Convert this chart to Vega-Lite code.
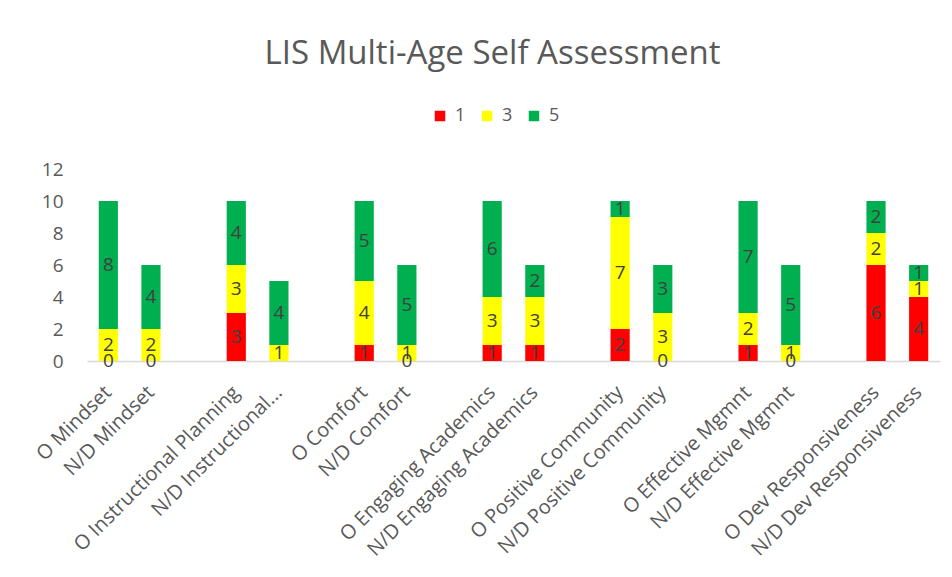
{
  "$schema": "https://vega.github.io/schema/vega-lite/v6.json",
  "autosize": "none",
  "width": 853,
  "height": 192,
  "padding": {"left": 87, "top": 169, "right": 12, "bottom": 216},
  "background": "white",
  "config": {"font": "Open Sans", "view": {"stroke": null}, "axisY": {"labelOverlap": false}},
  "title": {"text": "LIS Multi-Age Self Assessment", "fontSize": 33, "fontWeight": "normal", "color": "#595959", "anchor": "middle", "dx": -21, "offset": 36},
  "data": {"values": [
    {"category": "O Mindset", "rating": "1", "value": 0},
    {"category": "O Mindset", "rating": "3", "value": 2},
    {"category": "O Mindset", "rating": "5", "value": 8},
    {"category": "N/D Mindset", "rating": "1", "value": 0},
    {"category": "N/D Mindset", "rating": "3", "value": 2},
    {"category": "N/D Mindset", "rating": "5", "value": 4},
    {"category": "O Instructional Planning", "rating": "1", "value": 3},
    {"category": "O Instructional Planning", "rating": "3", "value": 3},
    {"category": "O Instructional Planning", "rating": "5", "value": 4},
    {"category": "N/D Instructional Planning", "rating": "3", "value": 1},
    {"category": "N/D Instructional Planning", "rating": "5", "value": 4},
    {"category": "O Comfort", "rating": "1", "value": 1},
    {"category": "O Comfort", "rating": "3", "value": 4},
    {"category": "O Comfort", "rating": "5", "value": 5},
    {"category": "N/D Comfort", "rating": "1", "value": 0},
    {"category": "N/D Comfort", "rating": "3", "value": 1},
    {"category": "N/D Comfort", "rating": "5", "value": 5},
    {"category": "O Engaging Academics", "rating": "1", "value": 1},
    {"category": "O Engaging Academics", "rating": "3", "value": 3},
    {"category": "O Engaging Academics", "rating": "5", "value": 6},
    {"category": "N/D Engaging Academics", "rating": "1", "value": 1},
    {"category": "N/D Engaging Academics", "rating": "3", "value": 3},
    {"category": "N/D Engaging Academics", "rating": "5", "value": 2},
    {"category": "O Positive Community", "rating": "1", "value": 2},
    {"category": "O Positive Community", "rating": "3", "value": 7},
    {"category": "O Positive Community", "rating": "5", "value": 1},
    {"category": "N/D Positive Community", "rating": "1", "value": 0},
    {"category": "N/D Positive Community", "rating": "3", "value": 3},
    {"category": "N/D Positive Community", "rating": "5", "value": 3},
    {"category": "O Effective Mgmnt", "rating": "1", "value": 1},
    {"category": "O Effective Mgmnt", "rating": "3", "value": 2},
    {"category": "O Effective Mgmnt", "rating": "5", "value": 7},
    {"category": "N/D Effective Mgmnt", "rating": "1", "value": 0},
    {"category": "N/D Effective Mgmnt", "rating": "3", "value": 1},
    {"category": "N/D Effective Mgmnt", "rating": "5", "value": 5},
    {"category": "O Dev Responsiveness", "rating": "1", "value": 6},
    {"category": "O Dev Responsiveness", "rating": "3", "value": 2},
    {"category": "O Dev Responsiveness", "rating": "5", "value": 2},
    {"category": "N/D Dev Responsiveness", "rating": "1", "value": 4},
    {"category": "N/D Dev Responsiveness", "rating": "3", "value": 1},
    {"category": "N/D Dev Responsiveness", "rating": "5", "value": 1}
  ]},
  "encoding": {
    "x": {
      "field": "category", "type": "nominal", "sort": null,
      "scale": {
        "domain": ["O Mindset", "N/D Mindset", "g1", "O Instructional Planning", "N/D Instructional Planning", "g2", "O Comfort", "N/D Comfort", "g3", "O Engaging Academics", "N/D Engaging Academics", "g4", "O Positive Community", "N/D Positive Community", "g5", "O Effective Mgmnt", "N/D Effective Mgmnt", "g6", "O Dev Responsiveness", "N/D Dev Responsiveness"],
        "paddingInner": 0.55, "paddingOuter": 0.275
      },
      "axis": {
        "title": null, "ticks": false, "domainColor": "#D9D9D9", "domainWidth": 1.5,
        "labelAngle": -45, "labelAlign": "right", "labelBaseline": "middle",
        "labelFontSize": 20, "labelColor": "#595959", "labelPadding": 28, "labelLimit": 400,
        "labelOverlap": false,
        "labelExpr": "length(datum.value) < 3 ? '' : (datum.value == 'N/D Instructional Planning' ? 'N/D Instructional...' : datum.value)"
      }
    }
  },
  "layer": [
    {
      "mark": {"type": "bar"},
      "encoding": {
        "y": {"field": "value", "type": "quantitative", "stack": "zero",
          "scale": {"domain": [0, 12], "nice": false},
          "axis": {"title": null, "values": [0, 2, 4, 6, 8, 10, 12], "labelOverlap": false, "grid": false, "domain": false, "ticks": false, "labelFontSize": 19, "labelColor": "#595959", "labelPadding": 24}},
        "color": {"field": "rating", "type": "nominal",
          "scale": {"domain": ["1", "3", "5"], "range": ["#FF0000", "#FFFF00", "#00B050"]},
          "legend": {"title": null, "orient": "none", "legendX": 344, "legendY": -62, "direction": "horizontal", "symbolType": "square", "symbolSize": 110, "symbolStrokeWidth": 0, "labelFontSize": 18, "labelColor": "#595959", "columnPadding": 12, "labelOffset": 6}},
        "order": {"field": "rating", "type": "ordinal"}
      }
    },
    {
      "transform": [
        {"stack": "value", "groupby": ["category"], "sort": [{"field": "rating", "order": "ascending"}], "as": ["v0", "v1"]},
        {"calculate": "(datum.v0 + datum.v1) / 2", "as": "mid"}
      ],
      "mark": {"type": "text", "fontSize": 19, "color": "#404040", "baseline": "middle", "align": "center"},
      "encoding": {
        "y": {"field": "mid", "type": "quantitative", "stack": null,
          "axis": {"title": null, "values": [0, 2, 4, 6, 8, 10, 12], "labelOverlap": false, "grid": false, "domain": false, "ticks": false, "labelFontSize": 19, "labelColor": "#595959", "labelPadding": 24}},
        "text": {"field": "value", "type": "quantitative"}
      }
    }
  ]
}
